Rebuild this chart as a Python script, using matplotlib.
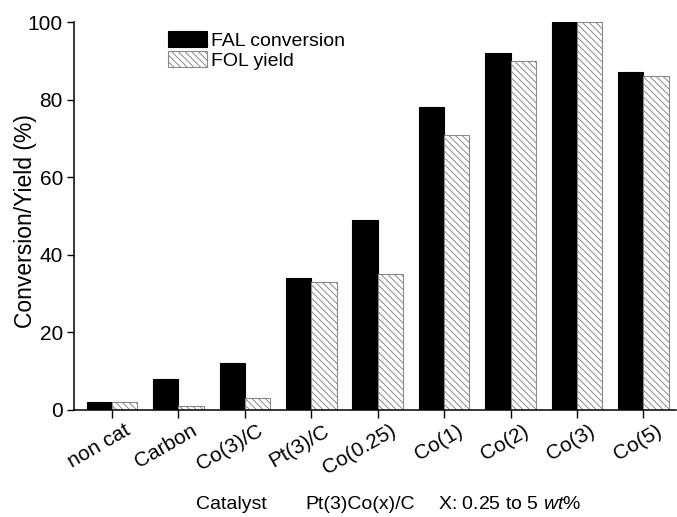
import numpy as np
import matplotlib
matplotlib.use("Agg")
import matplotlib.pyplot as plt
from matplotlib.transforms import ScaledTranslation

plt.rcParams['font.family'] = ['Liberation Sans', 'DejaVu Sans']
plt.rcParams['mathtext.fontset'] = 'custom'
plt.rcParams['mathtext.rm'] = 'Liberation Sans'
plt.rcParams['mathtext.it'] = 'Liberation Sans:italic'
plt.rcParams['hatch.color'] = '#a0a0a0'
plt.rcParams['hatch.linewidth'] = 0.7

# datos
catalizadores = ["non cat", "Carbon", "Co(3)/C", "Pt(3)/C", "Co(0.25)",
                 "Co(1)", "Co(2)", "Co(3)", "Co(5)"]
conversion_fal = [2, 8, 12, 34, 49, 78, 92, 100, 87]
rendimiento_fol = [2, 1, 3, 33, 35, 71, 90, 100, 86]

fig = plt.figure(figsize=(6.77, 5.17), dpi=100)
ax = fig.add_axes([0.1093, 0.2070, 0.8892, 0.7504])

x = np.arange(len(catalizadores))
ancho = 0.38
ax.bar(x - ancho / 2, conversion_fal, ancho, color="black", edgecolor="black",
       linewidth=0.8, label="FAL conversion")
ax.bar(x + ancho / 2, rendimiento_fol, ancho, color="white", edgecolor="#8a8a8a",
       hatch="\\\\\\\\\\", linewidth=0.8, label="FOL yield")

ax.set_xlim(-0.572, 8.49)
ax.set_ylim(0, 100)
ax.set_yticks([0, 20, 40, 60, 80, 100])
ax.set_xticks(x)
ax.set_xticklabels(catalizadores, rotation=30, ha="right", rotation_mode="anchor")
ax.tick_params(axis="both", labelsize=15, direction="out", width=1)
ax.tick_params(axis="x", length=6, pad=2)
ax.tick_params(axis="y", length=5, pad=3)

# desplazar etiquetas del eje x un poco a la derecha
desplazamiento = ScaledTranslation(12 / 100, 0, fig.dpi_scale_trans)
for etiqueta in ax.get_xticklabels():
    etiqueta.set_transform(etiqueta.get_transform() + desplazamiento)

for lado in ["top", "right"]:
    ax.spines[lado].set_visible(False)
for lado in ["left", "bottom"]:
    ax.spines[lado].set_linewidth(1.1)

fig.text(0.037, 0.572, "Conversion/Yield (%)", rotation=90, ha="center",
         va="center", fontsize=16.5)

fig.legend(loc="upper left", bbox_to_anchor=(0.248, 0.94), frameon=False,
           fontsize=14, handlelength=2.0, handleheight=0.85, labelspacing=0.1,
           handletextpad=0.2, borderaxespad=0, borderpad=0)

# titulo del eje x en tres partes
fig.text(196 / 677, 0.0155, "Catalyst", ha="left", va="baseline", fontsize=14)
fig.text(305 / 677, 0.0155, "Pt(3)Co(x)/C", ha="left", va="baseline", fontsize=14)
fig.text(438 / 677, 0.0155, r"X: 0.25 to 5 $\it{wt}$%", ha="left",
         va="baseline", fontsize=14)

fig.savefig("out.png", dpi=100)
